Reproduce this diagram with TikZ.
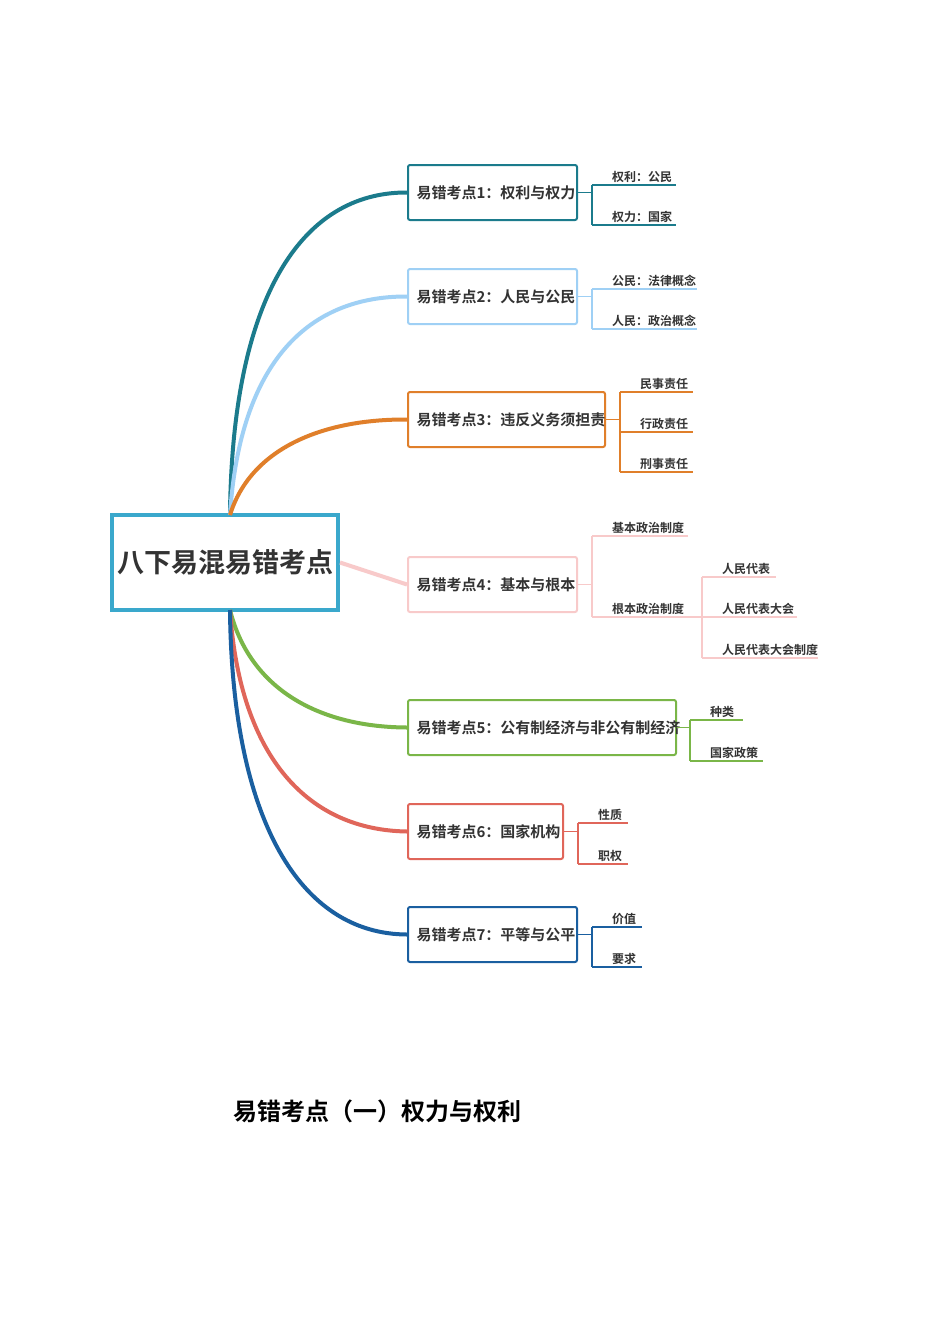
\documentclass[tikz,border=0pt]{standalone}
\usepackage{fontspec}
\setmainfont{Noto Sans CJK SC}[BoldFont={Noto Sans CJK SC Bold}]
\definecolor{c1}{HTML}{1B7B8C}
\definecolor{c2}{HTML}{9FD0F5}
\definecolor{c3}{HTML}{E07F2A}
\definecolor{c4}{HTML}{F8CACA}
\definecolor{c5}{HTML}{7AB648}
\definecolor{c6}{HTML}{E0665A}
\definecolor{c7}{HTML}{1A5FA0}
\definecolor{rootc}{HTML}{3AA8CC}
\definecolor{tx}{HTML}{333333}
\begin{document}
\begin{tikzpicture}[x=1pt,y=-1pt,
  topic/.style={draw=#1,line width=2pt,rounded corners=2pt,anchor=north west,inner sep=0pt,text=tx,font=\fontsize{15}{18}\selectfont\bfseries},
  branch/.style={draw=#1,line width=4pt},
  leaf/.style={anchor=south west,inner sep=2pt,text=tx,font=\fontsize{12}{14}\selectfont\bfseries},
  uline/.style={draw=#1,line width=1.5pt}]
\useasboundingbox[fill=white] (0,0) rectangle (950,1344);
\newcommand\topicbox[6]{\node[topic=#6,minimum width=#4pt-#2pt,minimum height=55pt] (#1) at (#2,#3) {};
  \node[anchor=west,text=tx,font=\fontsize{15}{18}\selectfont\bfseries] at ([xshift=6pt]#1.west) {#5};}
\newcommand\leafnode[6]{\coordinate (#1s) at (#2,#4); \coordinate (#1e) at (#3,#4);
  \node[leaf] (#1) at ([xshift=18pt]#1s) {#5};
  \draw[uline=#6] (#1s) -- (#1e);}
% root
\node[draw=rootc,line width=4pt,minimum width=226pt,minimum height=95pt,inner sep=0pt,text=tx,font=\fontsize{27}{32}\selectfont\bfseries] (root) at (225,562.5) {八下易混易错考点};
\coordinate (rt) at (230,515); \coordinate (rb) at (230,610);
% topics
\topicbox{t1}{407}{164}{576}{易错考点1：权利与权力}{c1}
\topicbox{t2}{407}{268}{576}{易错考点2：人民与公民}{c2}
\topicbox{t3}{407}{391}{604}{易错考点3：违反义务须担责}{c3}
\topicbox{t4}{407}{556}{576}{易错考点4：基本与根本}{c4}
\topicbox{t5}{407}{699}{675}{易错考点5：公有制经济与非公有制经济}{c5}
\topicbox{t6}{407}{803}{562}{易错考点6：国家机构}{c6}
\topicbox{t7}{407}{906}{576}{易错考点7：平等与公平}{c7}
% branches
\draw[branch=c1] (rt) .. controls (232,300) and (300,192) .. (t1.west);
\draw[branch=c2] (rt) .. controls (240,360) and (310,296) .. (t2.west);
\draw[branch=c3] (rt) .. controls (250,450) and (320,419) .. (t3.west);
\draw[branch=c4] (root.east) -- (t4.west);
\draw[branch=c5] (rb) .. controls (250,690) and (320,727) .. (t5.west);
\draw[branch=c6] (rb) .. controls (240,760) and (310,830) .. (t6.west);
\draw[branch=c7] (rb) .. controls (232,820) and (300,934) .. (t7.west);
% leaves 1
\leafnode{a1}{592}{676}{185}{权利：公民}{c1}
\leafnode{a2}{592}{676}{225}{权力：国家}{c1}
\draw[uline=c1] (t1.east) -- (t1.east -| a1s); \draw[uline=c1] (a1s) -- (a2s);
% leaves 2
\leafnode{b1}{592}{697}{289}{公民：法律概念}{c2}
\leafnode{b2}{592}{697}{329}{人民：政治概念}{c2}
\draw[uline=c2] (t2.east) -- (t2.east -| b1s); \draw[uline=c2] (b1s) -- (b2s);
% leaves 3
\leafnode{d1}{620}{693}{392}{民事责任}{c3}
\leafnode{d2}{620}{693}{432}{行政责任}{c3}
\leafnode{d3}{620}{693}{472}{刑事责任}{c3}
\draw[uline=c3] (t3.east) -- (t3.east -| d1s); \draw[uline=c3] (d1s) -- (d3s);
% leaves 4
\leafnode{e1}{592}{688}{536}{基本政治制度}{c4}
\leafnode{e2}{592}{702}{617}{根本政治制度}{c4}
\draw[uline=c4] (t4.east) -- (t4.east -| e1s); \draw[uline=c4] (e1s) -- (e2s);
\leafnode{f1}{702}{776}{577}{人民代表}{c4}
\leafnode{f2}{702}{797}{617}{人民代表大会}{c4}
\leafnode{f3}{702}{818}{658}{人民代表大会制度}{c4}
\draw[uline=c4] (f1s) -- (f3s);
% leaves 5
\leafnode{g1}{690}{743}{720}{种类}{c5}
\leafnode{g2}{690}{763}{761}{国家政策}{c5}
\draw[uline=c5] (t5.east) -- (t5.east -| g1s); \draw[uline=c5] (g1s) -- (g2s);
% leaves 6
\leafnode{h1}{578}{628}{823}{性质}{c6}
\leafnode{h2}{578}{628}{864}{职权}{c6}
\draw[uline=c6] (t6.east) -- (t6.east -| h1s); \draw[uline=c6] (h1s) -- (h2s);
% leaves 7
\leafnode{k1}{592}{642}{927}{价值}{c7}
\leafnode{k2}{592}{642}{967}{要求}{c7}
\draw[uline=c7] (t7.east) -- (t7.east -| k1s); \draw[uline=c7] (k1s) -- (k2s);
% title
\node[anchor=west,font=\fontsize{24}{28}\selectfont\bfseries] (title) at (230,1111) {易错考点（一）权力与权利};
\end{tikzpicture}
\end{document}
